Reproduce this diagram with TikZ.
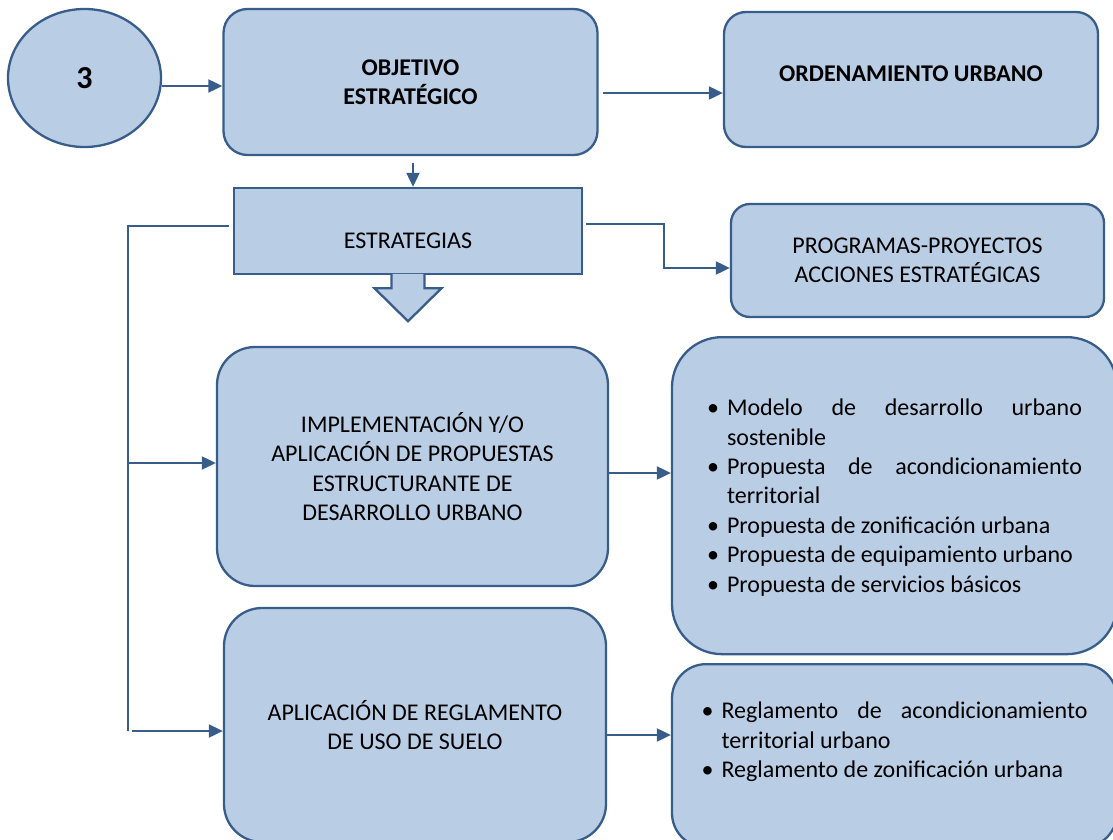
\documentclass[tikz,border=0pt]{standalone}
\usepackage{fontspec}
\setmainfont{Carlito}
\usepackage{tikz}
\usetikzlibrary{arrows.meta,shapes.geometric}
\definecolor{boxfill}{RGB}{185,205,229}
\definecolor{boxline}{RGB}{56,93,138}
\newcommand{\itm}[1]{\par\noindent\hangindent=10pt\hangafter=1\makebox[10pt][l]{\textbullet}#1}
\newcommand{\txt}{\fontsize{12}{14.7}\selectfont}

\begin{document}
\begin{tikzpicture}[x=0.5pt,y=-0.5pt,>={Triangle[length=7pt,width=6.5pt]},
box/.style={draw=boxline,fill=boxfill,line width=1.15pt,align=center,inner sep=0pt,font=\txt},
rbox/.style={box,rounded corners=#1},
lst/.style={draw=boxline,fill=boxfill,line width=1.15pt,inner sep=0pt,anchor=north,font=\txt},
arr/.style={draw=boxline,line width=1pt,->},
lne/.style={draw=boxline,line width=1pt}]
\useasboundingbox (0,0) rectangle (1113,840);
\clip (0,0) rectangle (1113,840);
\node[box,ellipse,minimum width=76.5pt,minimum height=69pt,font=\fontsize{16}{19}\selectfont\bfseries] (num) at (84.5,78) {3};
\node[rbox=12pt,minimum width=187pt,minimum height=73pt,font=\txt\bfseries] (obj) at (410.5,82) {OBJETIVO\\ESTRATÉGICO};
\node[rbox=11pt,minimum width=187pt,minimum height=67.5pt,font=\txt\bfseries,text depth=5.5pt] (ord) at (911,79.5) {ORDENAMIENTO URBANO};
\node[box,minimum width=174pt,minimum height=43pt,text height=17.7pt] (estr) at (408,231) {ESTRATEGIAS};
\node[rbox=9.5pt,minimum width=186.5pt,minimum height=56.5pt] (prog) at (917.5,260.5) {PROGRAMAS-PROYECTOS\\ACCIONES ESTRATÉGICAS};
\node[rbox=19pt,minimum width=195.5pt,minimum height=119.5pt] (impl) at (412.5,466.5) {IMPLEMENTACIÓN Y/O\\APLICACIÓN DE PROPUESTAS\\ESTRUCTURANTE DE\\DESARROLLO URBANO};
\node[rbox=19pt,minimum width=191pt,minimum height=117pt] (apl) at (415,725) {APLICACIÓN DE REGLAMENTO\\DE USO DE SUELO};
\node[lst,rounded corners=25pt,minimum width=222.5pt,text height=39.3pt,text depth=119.2pt] (lst1) at (894.5,336) {\parbox[t]{187.5pt}{\hyphenpenalty=10000
\itm{Modelo de desarrollo urbano\linebreak sostenible}
\itm{Propuesta de acondicionamiento\linebreak territorial}
\itm{Propuesta de zonificación urbana}
\itm{Propuesta de equipamiento urbano}
\itm{Propuesta de servicios básicos}}};
\node[lst,rounded corners=17pt,minimum width=222.5pt,text height=27.35pt,text depth=64.15pt] (lst2) at (894.5,663) {\parbox[t]{193pt}{\hyphenpenalty=10000
\itm{Reglamento de acondicionamiento\linebreak territorial urbano}
\itm{Reglamento de zonificación urbana}}};
\filldraw[draw=boxline,fill=boxfill,line width=1.15pt] ([xshift=-8.25pt,yshift=0.7pt]estr.south) -- ++(0,14.5) -- ++(-17,0) -- ++(33.5,33) -- ++(33.5,-33) -- ++(-17,0) -- ++(0,-14.5);
\coordinate (trunk) at (128,731);
\coordinate (elb) at (664,250);
\draw[arr] ([yshift=-4pt]num.east) -- ([yshift=-4pt]num.east -| obj.west);
\draw[arr,shorten <=2pt] ([yshift=-5.5pt]obj.east) -- ([yshift=-5.5pt]obj.east -| ord.west);
\draw[arr,shorten <=3.5pt] ([xshift=1.25pt]obj.south) -- ([xshift=1.25pt]obj.south |- estr.north);
\draw[lne,shorten <=2pt] ([yshift=2.5pt]estr.west) -| (trunk);
\draw[arr] (trunk |- impl.west) ++(0,-3.5) -- ([yshift=1.75pt]impl.west);
\draw[arr,shorten <=2pt] (trunk) -- (trunk -| apl.west);
\draw[arr,shorten <=1.5pt] ([yshift=3.5pt]estr.east) -| (elb) |- ([yshift=-3.75pt]prog.west);
\draw[arr] ([yshift=-3.25pt]impl.east) -- ([yshift=-3.25pt]impl.east -| lst1.west);
\draw[arr] ([yshift=-5pt]apl.east) -- ([yshift=-5pt]apl.east -| lst2.west);
\end{tikzpicture}
\end{document}
